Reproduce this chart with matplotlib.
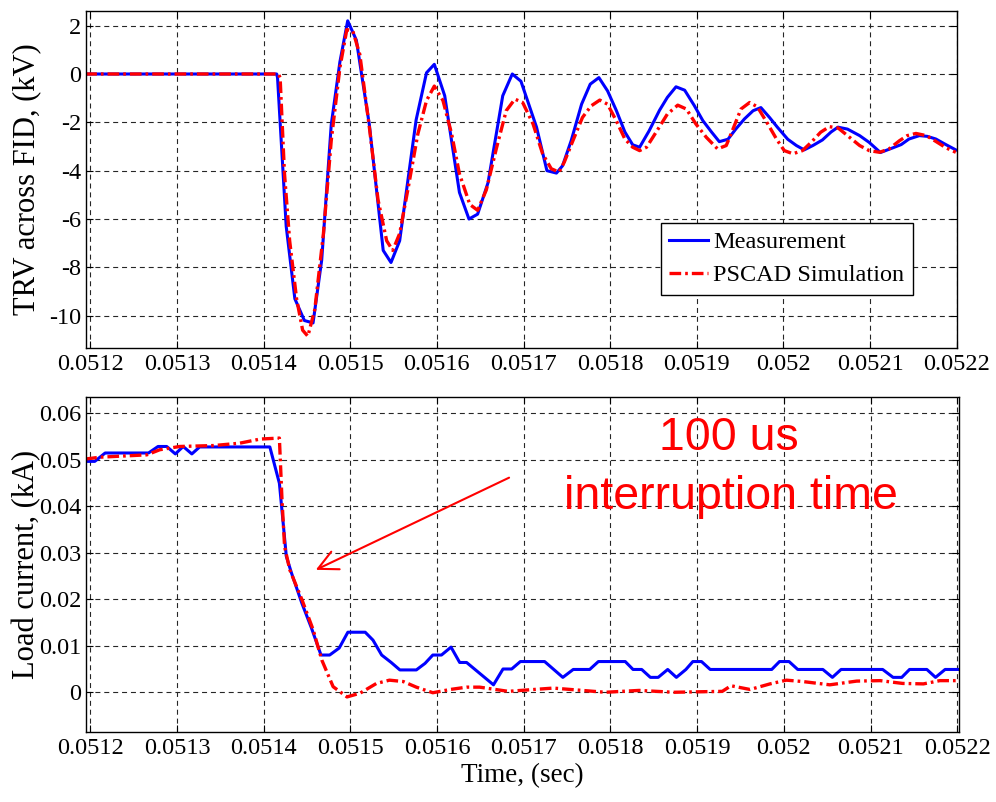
import matplotlib
matplotlib.use("Agg")
import matplotlib.pyplot as plt
import numpy as np

plt.rcParams['font.family'] = ['Liberation Serif', 'DejaVu Serif']
plt.rcParams['axes.unicode_minus'] = False

T0 = 0.0512  # window start (sec); times below are in tens of microseconds after it

# TRV across FID (kV) - measurement
trv_meas_t = [-0.6, 21.5, 21.6, 22.6, 23.6, 24.7, 25.7, 26.7, 27.8, 28.8, 29.7, 30.7,
              32.2, 33.8, 34.7, 35.7, 37.6, 38.8, 39.7, 40.9, 42.6, 43.7, 44.7, 45.9,
              47.6, 48.7, 49.7, 51.5, 52.7, 53.8, 54.5, 55.5, 56.7, 57.7, 58.7, 59.7,
              60.7, 61.7, 62.6, 63.4, 64.5, 65.7, 66.6, 67.6, 68.6, 69.7, 70.7, 71.7,
              72.6, 73.6, 74.5, 75.5, 76.5, 77.4, 78.4, 79.3, 80.5, 81.5, 82.4, 83.4,
              84.5, 85.5, 86.3, 87.4, 88.8, 89.9, 91.2, 92.6, 93.6, 94.5, 95.7, 96.6,
              97.6, 98.8, 99.9]
trv_meas_kv = [0.0, 0.0, -0.15, -6.3, -9.3, -10.2, -10.3, -7.7, -2.1, 0.5, 2.2, 1.4,
               -2.1, -7.3, -7.8, -6.9, -1.9, 0.05, 0.4, -0.9, -4.9, -6.0, -5.8, -4.5,
               -0.9, 0.0, -0.3, -2.2, -4.0, -4.1, -3.8, -2.76, -1.25, -0.42, -0.15, -0.7,
               -1.5, -2.4, -2.93, -3.03, -2.35, -1.5, -0.97, -0.53, -0.67, -1.3, -1.93, -2.4,
               -2.8, -2.7, -2.28, -1.86, -1.52, -1.39, -1.8, -2.2, -2.7, -2.96, -3.14, -2.96,
               -2.73, -2.4, -2.2, -2.28, -2.55, -2.83, -3.25, -3.06, -2.92, -2.69, -2.55, -2.58,
               -2.69, -2.93, -3.14]

# TRV across FID (kV) - PSCAD simulation
trv_sim_t = [-0.6, 21.7, 21.9, 22.4, 23.0, 23.8, 24.5, 25.1, 25.9, 26.9, 27.8, 28.8,
             29.6, 30.3, 31.1, 32.2, 33.2, 34.2, 34.9, 35.7, 36.7, 37.8, 38.8, 39.7,
             40.7, 41.7, 42.6, 43.8, 44.7, 45.7, 46.9, 48.0, 49.0, 49.9, 51.1, 52.2,
             53.2, 54.1, 54.7, 55.7, 56.8, 57.8, 58.8, 59.7, 60.7, 61.7, 62.6, 63.4,
             64.2, 65.3, 66.6, 67.8, 68.8, 69.9, 71.1, 72.4, 73.4, 74.1, 75.1, 76.1,
             77.0, 78.2, 79.2, 80.1, 81.1, 82.2, 83.2, 84.3, 85.3, 86.3, 87.4, 88.8,
             89.9, 91.1, 92.2, 93.4, 94.3, 95.3, 96.5, 97.6, 98.8, 99.9]
trv_sim_kv = [0.0, 0.0, -0.15, -4.1, -6.9, -9.3, -10.6, -10.85, -9.75, -6.6, -2.76, 0.26,
              1.84, 1.77, 0.81, -2.2, -5.2, -6.9, -7.3, -6.6, -4.68, -2.48, -1.1, -0.5,
              -1.1, -2.48, -4.13, -5.4, -5.64, -4.8, -3.03, -1.52, -1.04, -1.18, -2.07, -3.3,
              -3.92, -4.06, -3.65, -2.76, -1.8, -1.32, -1.08, -1.25, -1.93, -2.69, -3.03, -3.17,
              -3.03, -2.41, -1.66, -1.29, -1.45, -2.07, -2.62, -3.1, -2.96, -2.35, -1.45, -1.18,
              -1.36, -2.07, -2.69, -3.17, -3.3, -3.17, -2.83, -2.41, -2.18, -2.23, -2.55, -2.96,
              -3.17, -3.24, -3.1, -2.76, -2.55, -2.46, -2.55, -2.79, -3.06, -3.24]

# Load current (kA) - measurement
cur_meas_t = [-0.6, 0.5, 1.7, 6.7, 7.8, 8.8, 9.8, 10.7, 11.7, 12.6, 20.7, 21.8,
              22.6, 23.2, 24.4, 25.5, 26.6, 27.6, 28.7, 29.7, 31.7, 32.6, 33.6, 34.7,
              35.7, 37.6, 38.6, 39.5, 40.5, 41.6, 42.6, 43.4, 46.5, 47.6, 48.6, 49.6,
              52.4, 54.5, 55.7, 57.6, 58.6, 61.7, 62.6, 63.6, 64.6, 65.5, 66.6, 67.6,
              68.7, 69.5, 70.5, 71.5, 78.6, 79.5, 80.6, 81.6, 84.5, 85.6, 86.6, 91.4,
              92.6, 93.6, 94.5, 96.5, 97.5, 98.6, 100.3]
cur_meas_ka = [0.0496, 0.0496, 0.0514, 0.0514, 0.0528, 0.0528, 0.0512, 0.0528, 0.0512, 0.0527, 0.0527, 0.0449,
               0.0292, 0.0256, 0.0191, 0.0138, 0.008, 0.008, 0.0095, 0.0129, 0.0129, 0.0112, 0.008, 0.0064,
               0.0048, 0.0048, 0.0062, 0.008, 0.008, 0.0097, 0.0064, 0.0064, 0.0016, 0.005, 0.005, 0.0066,
               0.0066, 0.0032, 0.0049, 0.0049, 0.0066, 0.0066, 0.0049, 0.0049, 0.0032, 0.0032, 0.0049, 0.0032,
               0.0049, 0.0066, 0.0066, 0.0049, 0.0049, 0.0066, 0.0066, 0.0049, 0.0049, 0.0032, 0.0049, 0.0049,
               0.0032, 0.0032, 0.0049, 0.0049, 0.0032, 0.0049, 0.0049]

# Load current (kA) - PSCAD simulation
cur_sim_t = [-0.6, 1.1, 6.5, 8.0, 10.3, 14.2, 17.2, 19.6, 21.8, 22.1, 22.4, 23.0,
             24.4, 25.7, 26.7, 28.0, 29.6, 31.1, 33.0, 34.5, 36.1, 37.6, 39.5, 41.5,
             43.4, 44.9, 48.2, 53.4, 59.4, 63.3, 67.3, 72.9, 73.9, 76.1, 78.4, 80.3,
             82.2, 85.3, 88.4, 91.1, 93.7, 96.1, 98.0, 100.3]
cur_sim_ka = [0.0501, 0.0505, 0.051, 0.0521, 0.0528, 0.053, 0.0535, 0.0544, 0.0546, 0.0414, 0.0313, 0.0263,
              0.0199, 0.0134, 0.0069, 0.0012, -0.001, -0.0002, 0.0019, 0.0026, 0.0023, 0.0011, -0.0001, 0.0006,
              0.0011, 0.0011, 0.0002, 0.0009, 0.0, 0.0004, 0.0, 0.0002, 0.0014, 0.0006, 0.0018, 0.0026,
              0.0023, 0.0016, 0.0024, 0.0025, 0.0019, 0.0018, 0.0025, 0.0025]

x_ticks = [0.0512, 0.0513, 0.0514, 0.0515, 0.0516, 0.0517, 0.0518, 0.0519, 0.0520, 0.0521, 0.0522]
x_tick_labels = ['0.0512', '0.0513', '0.0514', '0.0515', '0.0516', '0.0517',
                 '0.0518', '0.0519', '0.052', '0.0521', '0.0522']
trv_ticks = [-10, -8, -6, -4, -2, 0, 2]
cur_ticks = [0, 0.01, 0.02, 0.03, 0.04, 0.05, 0.06]
cur_tick_labels = ['0', '0.01', '0.02', '0.03', '0.04', '0.05', '0.06']


def t(v):
    # tens of microseconds after T0 -> seconds
    return T0 + np.array(v) * 1e-5


FS = 17.5
sim_dash = [3.5, 1.2, 0.8, 1.2]

fig = plt.figure(figsize=(9.96, 8.02), dpi=100)
ax1 = fig.add_axes([0.086, 0.5657, 0.8745, 0.421])
ax2 = fig.add_axes([0.086, 0.0869, 0.8768, 0.4185])

ax1.plot(t(trv_meas_t), trv_meas_kv, color='#0000ff', lw=2.2, label='Measurement')
ax1.plot(t(trv_sim_t), trv_sim_kv, color='#ff0000', lw=2.4, dashes=sim_dash,
         label='PSCAD Simulation')
ax1.set_xlim(t(-0.55), 0.0522)
ax1.set_ylim(-11.35, 2.62)
ax1.set_yticks(trv_ticks)
ax1.set_yticklabels([str(v) for v in trv_ticks])
ax1.set_ylabel('TRV across FID, (kV)', fontsize=22)
ax1.yaxis.set_label_coords(-0.051, 0.5)
leg = ax1.legend(loc='upper right', bbox_to_anchor=(0.9495, 0.372), borderaxespad=0,
                 fontsize=FS, handlelength=1.6, handletextpad=0.2, borderpad=0.35,
                 labelspacing=0.45, fancybox=False, framealpha=1, edgecolor='black')
leg.get_frame().set_linewidth(1.0)

ax2.plot(t(cur_meas_t), cur_meas_ka, color='#0000ff', lw=2.2)
ax2.plot(t(cur_sim_t), cur_sim_ka, color='#ff0000', lw=2.4, dashes=sim_dash)
ax2.set_xlim(t(-0.55), t(100.2))
ax2.set_ylim(-0.0086, 0.0635)
ax2.set_yticks(cur_ticks)
ax2.set_yticklabels(cur_tick_labels)
ax2.set_ylabel('Load current, (kA)', fontsize=22)
ax2.yaxis.set_label_coords(-0.051, 0.5)
ax2.set_xlabel('Time, (sec)', fontsize=19.5, labelpad=3)

# arrow and note
ax2.annotate('', xy=(t(26.0), 0.0263), xytext=(t(48.3), 0.0461),
             arrowprops=dict(arrowstyle='->,head_length=0.7,head_width=0.35',
                             color='#ff0000', lw=1.5, mutation_scale=20,
                             shrinkA=0, shrinkB=0))
ax2.text(t(73.6), 0.0520, '100 us', color='#ff0000', fontsize=33.5,
         family='Liberation Sans', ha='center', va='baseline')
ax2.text(t(73.9), 0.0394, 'interruption time', color='#ff0000', fontsize=33.5,
         family='Liberation Sans', ha='center', va='baseline')

for ax in (ax1, ax2):
    ax.set_xticks(x_ticks)
    ax.set_xticklabels(x_tick_labels)
    ax.tick_params(direction='in', top=True, right=True, length=5, width=0.8,
                   labelsize=FS)
    ax.tick_params(axis='y', pad=3)
    ax.tick_params(axis='x', pad=4)
    ax.grid(True, color='0.15', linestyle=(0, (4.5, 3.5)), linewidth=0.8)
    for s in ax.spines.values():
        s.set_linewidth(1.0)

fig.savefig('out.png', dpi=100)
